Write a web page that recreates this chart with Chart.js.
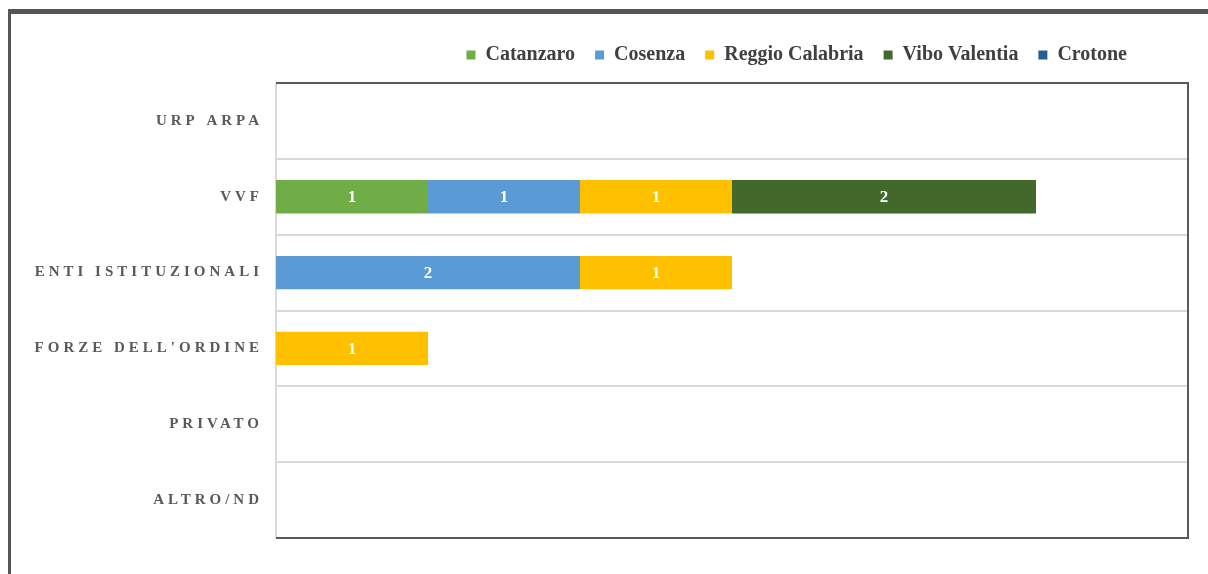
<!DOCTYPE html>
<html>
<head>
<meta charset="utf-8">
<script src="https://cdn.jsdelivr.net/npm/chart.js@4.4.1/dist/chart.umd.min.js"></script>
<style>
  html, body { margin: 0; padding: 0; background: #ffffff; overflow: hidden; }
  #wrap { position: absolute; left: 0; top: 0; width: 1208px; height: 574px; }
  #frame { position: absolute; left: 8px; top: 9px; width: 1400px; height: 800px;
           border-top: 5px solid #555555; border-left: 3px solid #555555; pointer-events: none; }
</style>
</head>
<body>
<div id="wrap"><canvas id="c" width="1208" height="574"></canvas></div>
<div id="frame"></div>
<script>
const categories = ["URP ARPA", "VVF", "ENTI ISTITUZIONALI", "FORZE DELL'ORDINE", "PRIVATO", "ALTRO/ND"];
const seriesNames = ["Catanzaro", "Cosenza", "Reggio Calabria", "Vibo Valentia", "Crotone"];
const catanzaro = [0, 1, 0, 0, 0, 0];
const cosenza = [0, 1, 2, 0, 0, 0];
const reggioCalabria = [0, 1, 1, 1, 0, 0];
const viboValentia = [0, 2, 0, 0, 0, 0];
const crotone = [0, 0, 0, 0, 0, 0];
const seriesColors = ["#70AD47", "#5B9BD5", "#FFC000", "#43682B", "#255E91"];
const xMax = 6;

const seriesValues = [catanzaro, cosenza, reggioCalabria, viboValentia, crotone];

const serif = "'Liberation Serif', 'Times New Roman', serif";

const plotBorder = {
  id: 'plotBorder',
  beforeDatasetsDraw(chart) {
    const {ctx, chartArea: a} = chart;
    ctx.save();
    ctx.lineWidth = 2;
    ctx.strokeStyle = '#d9d9d9';
    ctx.beginPath(); ctx.moveTo(a.left, a.top); ctx.lineTo(a.left, a.bottom); ctx.stroke();
    ctx.strokeStyle = '#595959';
    ctx.beginPath();
    ctx.moveTo(a.left, a.top); ctx.lineTo(a.right, a.top);
    ctx.lineTo(a.right, a.bottom); ctx.lineTo(a.left, a.bottom);
    ctx.stroke();
    ctx.restore();
  }
};

const barLabels = {
  id: 'barLabels',
  afterDatasetsDraw(chart) {
    const {ctx} = chart;
    ctx.save();
    ctx.fillStyle = '#ffffff';
    ctx.font = "bold 17px " + serif;
    ctx.textAlign = 'center';
    ctx.textBaseline = 'middle';
    chart.data.datasets.forEach((ds, i) => {
      const meta = chart.getDatasetMeta(i);
      if (meta.hidden) return;
      meta.data.forEach((bar, j) => {
        const v = ds.data[j];
        if (v > 0) {
          const p = bar.getCenterPoint();
          ctx.fillText(String(v), p.x, p.y + 1);
        }
      });
    });
    ctx.restore();
  }
};

const tweaks = {
  id: 'tweaks',
  beforeDraw(chart) {
    const y = chart.scales.y;
    if (y && !y._spaced) {
      const orig = y.drawLabels.bind(y);
      y.drawLabels = function (area) {
        const ctx = this.ctx;
        ctx.save();
        ctx.letterSpacing = '4px';
        orig(area);
        ctx.restore();
      };
      y._spaced = true;
    }
    if (chart.legend) {
      chart.legend.right = chart.chartArea.right - 41;
    }
  }
};

new Chart(document.getElementById('c'), {
  type: 'bar',
  data: {
    labels: categories,
    datasets: seriesNames.map((name, i) => ({
      label: name,
      data: seriesValues[i],
      backgroundColor: seriesColors[i],
      borderWidth: 0,
      barPercentage: 0.44,
      categoryPercentage: 1
    }))
  },
  options: {
    indexAxis: 'y',
    responsive: false,
    animation: false,
    devicePixelRatio: 1,
    layout: { padding: { top: 25, right: 20, bottom: 36, left: 0 } },
    scales: {
      x: {
        stacked: true,
        position: 'top',
        min: 0,
        max: xMax,
        display: true,
        ticks: { display: false },
        grid: { display: false, drawTicks: false },
        border: { display: false },
        afterFit(s) { s.height = 8; }
      },
      y: {
        stacked: true,
        grid: { display: true, offset: true, color: '#d9d9d9', lineWidth: 2, drawTicks: false },
        border: { display: false },
        ticks: {
          color: '#595959',
          padding: 13,
          font: { family: serif, size: 15, weight: 'bold' }
        },
        afterFit(s) { s.width = 276; }
      }
    },
    plugins: {
      legend: {
        position: 'top',
        align: 'end',
        labels: {
          boxWidth: 9,
          boxHeight: 9,
          padding: 20,
          color: '#404040',
          font: { family: serif, size: 20, weight: 'bold' }
        }
      },
      tooltip: { enabled: false }
    }
  },
  plugins: [plotBorder, barLabels, tweaks]
});
</script>
</body>
</html>
